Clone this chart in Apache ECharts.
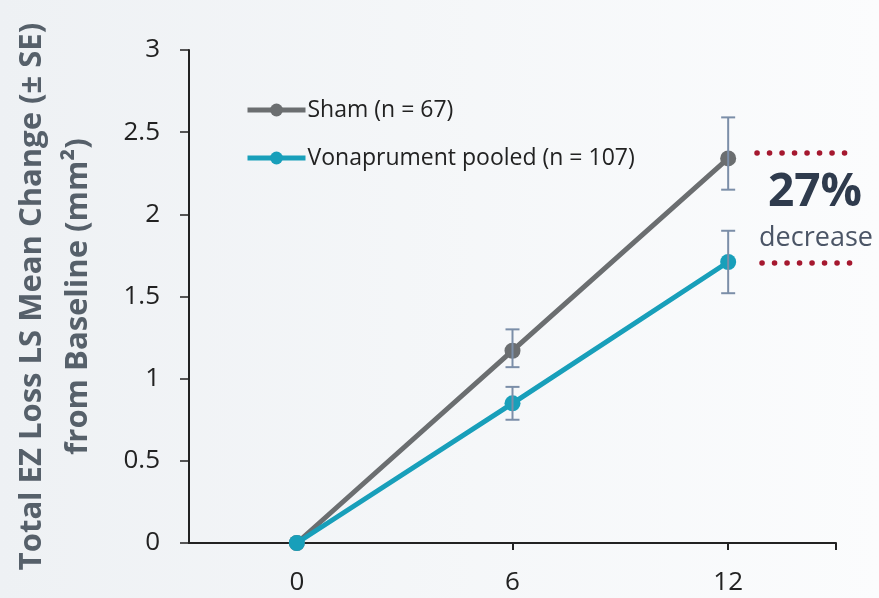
<!DOCTYPE html>
<html>
<head>
<meta charset="utf-8">
<script src="https://cdn.jsdelivr.net/npm/echarts@6/dist/echarts.min.js"></script>
<style>
html,body{margin:0;padding:0;}
#chart{width:879px;height:598px;}
</style>
</head>
<body>
<div id="chart"></div>
<script>
const months = [0, 6, 12];
const xTickLabels = [0, 6, 12];
const shamName = 'Sham (n = 67)';
const vonaName = 'Vonaprument pooled (n = 107)';
const shamMean = [0, 1.17, 2.34];
const shamUpper = [0, 1.30, 2.59];
const shamLower = [0, 1.07, 2.15];
const vonaMean = [0, 0.85, 1.71];
const vonaUpper = [0, 0.95, 1.90];
const vonaLower = [0, 0.75, 1.52];
const yTicks = [0, 0.5, 1, 1.5, 2, 2.5, 3];
const annotationBig = '27%';
const annotationSmall = 'decrease';

const FONT = 'Open Sans';
const shamColor = '#6b6e70';
const vonaColor = '#189fba';
const errColor = '#7b8ea8';

function pairs(xs, ys){ return xs.map((x,i)=>[x, ys[i]]); }
function errData(xs, lo, hi){ return xs.map((x,i)=>[x, lo[i], hi[i]]).filter(d=>d[1]!==d[2]); }

function errRender(params, api){
  const x = api.value(0);
  const lo = api.coord([x, api.value(1)]);
  const hi = api.coord([x, api.value(2)]);
  const hw = 7;
  const st = {stroke: errColor, lineWidth: 2, fill: null};
  return {type:'group', children:[
    {type:'line', shape:{x1:hi[0], y1:hi[1], x2:lo[0], y2:lo[1]}, style:st},
    {type:'line', shape:{x1:hi[0]-hw, y1:hi[1], x2:hi[0]+hw, y2:hi[1]}, style:st},
    {type:'line', shape:{x1:lo[0]-hw, y1:lo[1], x2:lo[0]+hw, y2:lo[1]}, style:st}
  ]};
}

const chart = echarts.init(document.getElementById('chart'));
chart.setOption({
  backgroundColor: new echarts.graphic.LinearGradient(0,0,1,0,[
    {offset:0, color:'#eef1f4'},{offset:1, color:'#fbfcfd'}]),
  animation:false,
  textStyle:{fontFamily: FONT},
  grid:{left:189, right:43, top:50, bottom:55, outerBoundsMode:'none', containLabel:false},
  legend:{
    orient:'vertical', left:240, top:93, itemGap:24,
    itemWidth:58, itemHeight:16,
    lineStyle:{width:5},
    textStyle:{fontFamily:FONT, fontSize:23, lineHeight:24, color:'#222', padding:[0,0,0,-3]},
    data:[shamName, vonaName]
  },
  xAxis:{
    type:'value', min:-3, max:15,
    splitLine:{show:false},
    axisLine:{onZero:false, lineStyle:{color:'#222', width:2}},
    axisTick:{show:true, length:7, inside:false, customValues:[0,6,12,15], lineStyle:{color:'#222', width:2}},
    axisLabel:{customValues:xTickLabels, fontFamily:FONT, fontSize:26, color:'#222', margin:27}
  },
  yAxis:{
    type:'value', min:0, max:3, interval:0.5,
    splitLine:{show:false},
    axisLine:{show:true, onZero:false, lineStyle:{color:'#222', width:2}},
    axisTick:{show:true, length:9, lineStyle:{color:'#222', width:1.5}},
    axisLabel:{fontFamily:FONT, fontSize:26, color:'#222', margin:29,
      customValues: yTicks},
    name:'Total EZ Loss LS Mean Change (± SE)\nfrom Baseline (mm²)',
    nameLocation:'middle', nameGap:88, nameRotate:90,
    nameTextStyle:{fontFamily:FONT, fontSize:31, fontWeight:'bold', color:'#56606a', lineHeight:46}
  },
  series:[
    {name:shamName, type:'line', data:pairs(months, shamMean), color:shamColor,
     lineStyle:{width:5, color:shamColor}, symbol:'circle', symbolSize:16,
     itemStyle:{color:shamColor}, z:3},
    {name:vonaName, type:'line', data:pairs(months, vonaMean), color:vonaColor,
     lineStyle:{width:5, color:vonaColor}, symbol:'circle', symbolSize:16,
     itemStyle:{color:vonaColor}, z:4},
    {type:'custom', renderItem:errRender, data:errData(months, shamLower, shamUpper), z:5, silent:true},
    {type:'custom', renderItem:errRender, data:errData(months, vonaLower, vonaUpper), z:5, silent:true}
  ],
  graphic:[
    {type:'line', shape:{x1:757, y1:153, x2:845, y2:153},
     style:{stroke:'#a5182f', lineWidth:5.5, lineCap:'round', lineDash:[0.1,12.4]}},
    {type:'line', shape:{x1:762, y1:263, x2:850, y2:263},
     style:{stroke:'#a5182f', lineWidth:5.5, lineCap:'round', lineDash:[0.1,12.4]}},
    {type:'text', x:815, y:193, style:{text:annotationBig, fontFamily:FONT, fontSize:46, fontWeight:'bold', fill:'#2f3b4d', align:'center', verticalAlign:'middle'}},
    {type:'text', x:816, y:238, style:{text:annotationSmall, fontFamily:FONT, fontSize:27, fill:'#4b5566', align:'center', verticalAlign:'middle'}}
  ]
});
</script>
</body>
</html>
